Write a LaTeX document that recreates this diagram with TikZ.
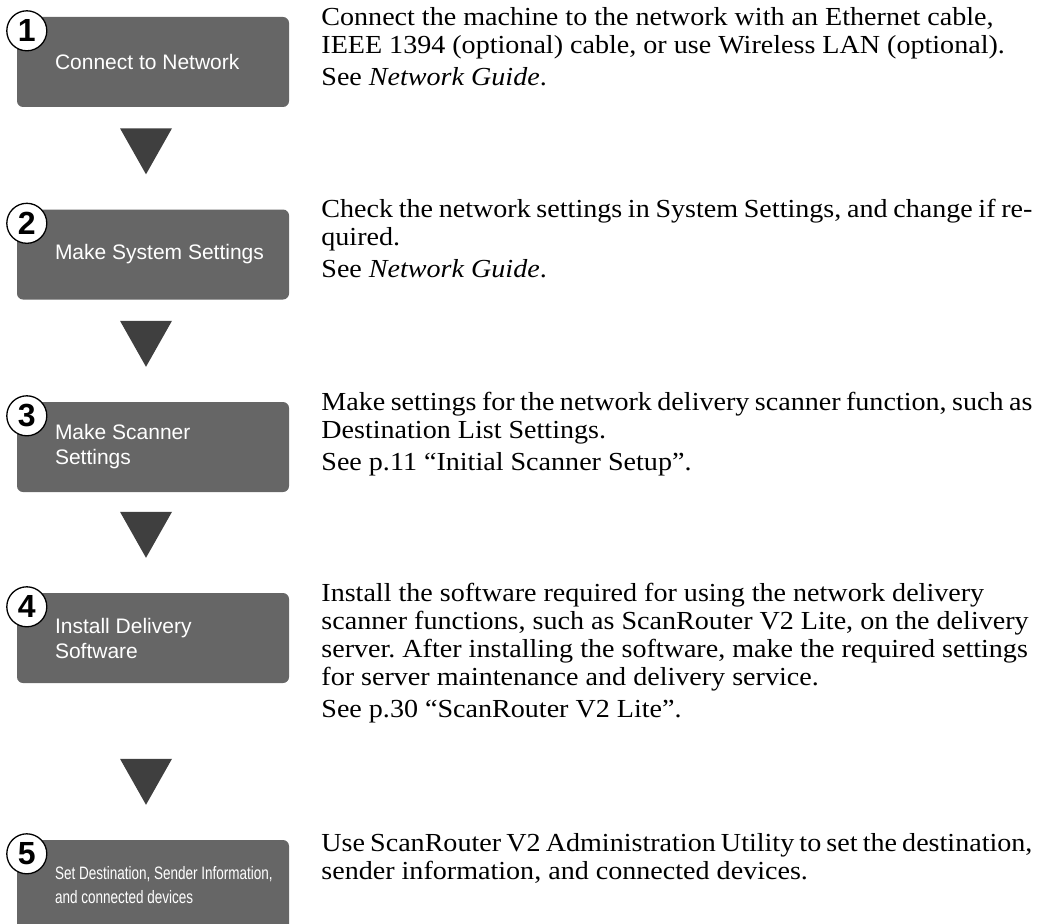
\documentclass[tikz,border=0pt]{standalone}
\usepackage{fontspec}
\setmainfont{Liberation Serif}[FakeStretch=1.08]
\newfontfamily\labelfont{Liberation Sans}
\newfontfamily\narrowfont{Liberation Sans}[FakeStretch=0.75]
\usetikzlibrary{positioning,calc}
\definecolor{boxgray}{HTML}{666666}
\definecolor{arrowgray}{HTML}{3F3F3F}
\newcommand{\tightline}[1]{\makebox[711pt][s]{#1}}
\frenchspacing

\begin{document}
\begin{tikzpicture}[x=1pt,y=-1pt,
    stepbox/.style={fill=boxgray,rounded corners=6pt,minimum width=272pt,minimum height=90pt,inner sep=0pt},
    steplabel/.style={text=white,font=\labelfont\fontsize{21}{25}\selectfont,align=left,inner sep=0pt,anchor=west},
    stepnum/.style={circle,draw=black,line width=1.3pt,fill=white,minimum size=40pt,inner sep=0pt,font=\labelfont\bfseries\fontsize{32}{32}\selectfont},
    stepdesc/.style={anchor=north west,inner sep=0pt,align=left,font=\fontsize{26}{28}\selectfont},
    steparrow/.style={fill=arrowgray}]
    \useasboundingbox (0,0) rectangle (1038,923);
    \clip (0,0) rectangle (1038,923);
    % the five steps
    \node[stepbox] (b1) at (153,62) {};
    \node[stepbox] (b2) at (153,254.5) {};
    \node[stepbox] (b3) at (153,447) {};
    \node[stepbox] (b4) at (153,638) {};
    \node[stepbox] (b5) at (153,885) {};
    \foreach \i in {1,...,5}
        \node[stepnum] (n\i) at ([xshift=10pt,yshift=-14pt]b\i.north west) {\i};
    \node[steplabel] (l1) at ([xshift=38pt]b1.west) {Connect to Network};
    \node[steplabel] (l2) at ([xshift=38pt]b2.west) {Make System Settings};
    \node[steplabel] (l3) at ([xshift=38pt]b3.west) {Make Scanner\\Settings};
    \node[steplabel] (l4) at ([xshift=38pt]b4.west) {Install Delivery\\Software};
    \node[steplabel,font=\narrowfont\fontsize{18}{24}\selectfont] (l5) at ([xshift=38pt]b5.west) {Set Destination, Sender Information,\\and connected devices};
    % arrows between the steps
    \foreach \j in {2,...,5} {
        \coordinate (t\j) at ($(b\j.north)+(-7,-35)$);
        \fill[steparrow] (t\j) -- ++(-26,-46) -- ++(52,0) -- cycle;
    }
    % descriptions
    \node[stepdesc] (d1) at ([xshift=32pt,yshift=10pt]b1.north east)
        {Connect the machine to the network with an Ethernet cable,\\
         IEEE 1394 (optional) cable, or use Wireless LAN (optional).\\[4pt]
         See \textit{Network Guide}.};
    \node[stepdesc] (d2) at ([xshift=32pt,yshift=10pt]b2.north east)
        {\tightline{Check the network settings in System Settings, and change if re-}\\
         quired.\\[4pt]
         See \textit{Network Guide}.};
    \node[stepdesc] (d3) at ([xshift=32pt,yshift=10pt]b3.north east)
        {\tightline{Make settings for the network delivery scanner function, such as}\\
         Destination List Settings.\\[4pt]
         See p.11 ``Initial Scanner Setup''.};
    \node[stepdesc] (d4) at ([xshift=32pt,yshift=10pt]b4.north east)
        {Install the software required for using the network delivery\\
         scanner functions, such as ScanRouter V2 Lite, on the delivery\\
         server. After installing the software, make the required settings\\
         for server maintenance and delivery service.\\[4pt]
         See p.30 ``ScanRouter V2 Lite''.};
    \node[stepdesc] (d5) at ([xshift=32pt,yshift=7pt]b5.north east)
        {\tightline{Use ScanRouter V2 Administration Utility to set the destination,}\\
         sender information, and connected devices.};
\end{tikzpicture}
\end{document}
